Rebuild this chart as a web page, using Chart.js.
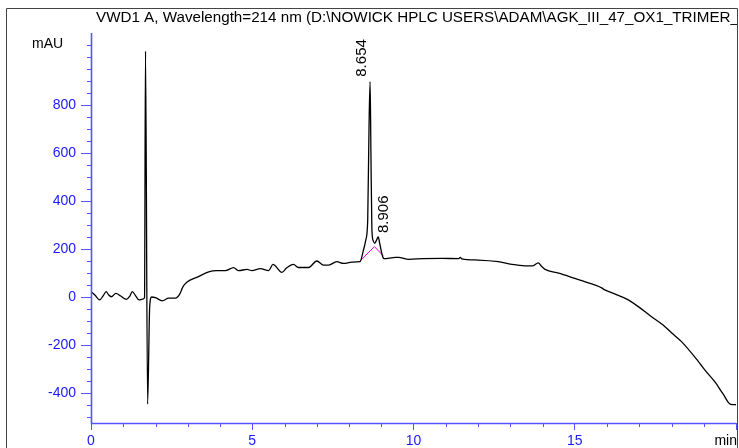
<!DOCTYPE html>
<html>
<head>
<meta charset="utf-8">
<script src="https://cdn.jsdelivr.net/npm/chart.js@4"></script>
<style>
  html, body { margin: 0; padding: 0; background: #fff; }
</style>
</head>
<body>
<canvas id="hplcChart" width="739" height="448"></canvas>
<script>
// signal trace (time in min, signal in mAU)
const times = [
    0, 0.12, 0.27, 0.38, 0.47, 0.55, 0.63, 0.77, 0.92, 1.1, 1.2, 1.28, 1.38, 1.49, 1.6, 1.66,
    1.69, 1.755, 1.82, 1.88, 2.0, 2.21, 2.41, 2.62, 2.75, 2.85, 2.98, 3.3, 3.65, 3.9, 4.17,
    4.42, 4.58, 4.84, 4.99, 5.25, 5.51, 5.64, 5.92, 6.07, 6.28, 6.43, 6.75, 7.0, 7.21, 7.37,
    7.62, 7.83, 8.09, 8.34, 8.45, 8.52, 8.58, 8.62, 8.654, 8.68, 8.71, 8.75, 8.8, 8.85, 8.906,
    8.95, 9.0, 9.05, 9.1, 9.25, 9.43, 9.54, 9.85, 10.3, 10.88, 11.4, 11.45, 11.5, 12.0, 12.63,
    13.0, 13.46, 13.7, 13.87, 13.97, 14.08, 14.5, 14.9, 15.4, 15.85, 15.9, 16.2, 16.6, 16.97,
    17.35, 17.74, 18.0, 18.31, 18.77, 19.05, 19.34, 19.6, 19.82, 20.0
];
const mau = [
    22, 8, -12, 6, 22, 8, 1, 15, 4, -10, 3, 22, 6, -12, -9, -3,
    1025, -446, -40, 0, -3, -16, -5, -5, 12, 42, 62, 83, 105, 110, 110,
    122, 110, 115, 110, 118, 110, 136, 103, 122, 136, 123, 123, 150, 133, 133,
    147, 140, 145, 147, 196, 237, 320, 700, 897, 600, 280, 235, 224, 236, 250,
    225, 192, 166, 160, 162, 165, 165, 157, 160, 161, 160, 165, 159, 154, 147,
    137, 130, 130, 142, 128, 115, 99, 82, 60, 37, 32, 15, -8, -40,
    -79, -117, -149, -186, -258, -307, -353, -404, -446, -449
];

// integration baseline (pink)
const baseTimes = [8.345, 8.787, 9.066];
const baseMau = [150, 210, 171];

// peak labels
const peakTimes = [8.654, 8.906];
const peakMau = [897, 250];
const peakLabels = ['8.654', '8.906'];

const xTicks = [0, 5, 10, 15, 20];
const yTicks = [-400, -200, 0, 200, 400, 600, 800];
const titleText = 'VWD1 A, Wavelength=214 nm (D:\\NOWICK HPLC USERS\\ADAM\\AGK_III_47_OX1_TRIMER_';

const axisBlue = '#5555ff';
const labelBlue = '#1a1aff';
const fontFam = '"Liberation Sans", Arial, sans-serif';

Chart.defaults.font.family = fontFam;

// extra bits the vendor software draws: frame, title, units, minor ticks, peak labels
const extras = {
    id: 'extras',
    afterDraw(chart) {
        const ctx = chart.ctx;
        const xs = chart.scales.x, ys = chart.scales.y;
        const area = chart.chartArea;
        ctx.save();

        // axis lines
        ctx.strokeStyle = axisBlue;
        ctx.lineWidth = 1.6;
        ctx.beginPath();
        ctx.moveTo(area.left + 0.5, area.top);
        ctx.lineTo(area.left + 0.5, area.bottom + 0.5);
        ctx.lineTo(area.right, area.bottom + 0.5);
        ctx.stroke();

        // minor ticks
        ctx.lineWidth = 1;
        ctx.beginPath();
        for (let t = 0; t <= 20; t++) {
            if (t % 5 === 0) continue;
            const px = Math.round(xs.getPixelForValue(t)) + 0.5;
            ctx.moveTo(px, area.bottom);
            ctx.lineTo(px, area.bottom + 4);
        }
        for (let v = -500; v <= 1050; v += 50) {
            if (yTicks.includes(v)) continue;
            const py = Math.round(ys.getPixelForValue(v)) + 0.5;
            ctx.moveTo(area.left - 4, py);
            ctx.lineTo(area.left, py);
        }
        ctx.stroke();

        // frame
        ctx.strokeStyle = '#444';
        ctx.beginPath();
        ctx.moveTo(6.5, 448);
        ctx.lineTo(6.5, 8.5);
        ctx.lineTo(737.5, 8.5);
        ctx.lineTo(737.5, 448);
        ctx.stroke();

        // title, clipped at the frame
        ctx.save();
        ctx.beginPath();
        ctx.rect(7, 9, 730, 25);
        ctx.clip();
        ctx.fillStyle = '#000';
        ctx.font = '15.2px ' + fontFam;
        ctx.textAlign = 'left';
        ctx.textBaseline = 'alphabetic';
        ctx.fillText(titleText, 96, 22);
        ctx.restore();

        // units
        ctx.fillStyle = '#000';
        ctx.font = '14px ' + fontFam;
        ctx.textBaseline = 'middle';
        ctx.textAlign = 'left';
        ctx.fillText('mAU', 32, 44);
        ctx.textAlign = 'right';
        ctx.fillText('min', 737, 441);

        // peak retention time labels, rotated
        const offs = [[-4, -5], [10, -4]];
        ctx.font = '15px ' + fontFam;
        ctx.textAlign = 'left';
        ctx.textBaseline = 'alphabetic';
        peakTimes.forEach((t, i) => {
            const px = xs.getPixelForValue(t) + offs[i][0];
            const py = ys.getPixelForValue(peakMau[i]) + offs[i][1];
            ctx.save();
            ctx.translate(px, py);
            ctx.rotate(-Math.PI / 2);
            ctx.fillText(peakLabels[i], 0, 0);
            ctx.restore();
        });
        ctx.restore();
    }
};

const ctx = document.getElementById('hplcChart').getContext('2d');
const chart = new Chart(ctx, {
    type: 'line',
    data: {
        datasets: [{
            data: times.map((t, i) => ({ x: t, y: mau[i] })),
            borderColor: '#000',
            borderWidth: 1.3,
            pointRadius: 0,
            cubicInterpolationMode: 'monotone',
            fill: false
        }, {
            data: baseTimes.map((t, i) => ({ x: t, y: baseMau[i] })),
            borderColor: '#e600e6',
            borderWidth: 1,
            pointRadius: 0,
            fill: false
        }]
    },
    options: {
        responsive: false,
        animation: false,
        layout: { padding: { left: 0, top: 33, right: 1, bottom: 0 } },
        plugins: { legend: { display: false }, tooltip: { enabled: false } },
        scales: {
            x: {
                type: 'linear',
                min: 0,
                max: 20,
                afterFit: s => { s.height = 25; },
                afterBuildTicks: s => { s.ticks = xTicks.map(v => ({ value: v })); },
                ticks: {
                    color: labelBlue,
                    font: { size: 14 },
                    padding: 3,
                    maxRotation: 0,
                    autoSkip: false,
                    callback: v => (v === 20 ? '' : String(v))
                },
                grid: { drawOnChartArea: false, tickLength: 7, tickColor: axisBlue },
                border: { color: axisBlue, width: 1 }
            },
            y: {
                min: -525,
                max: 1100,
                afterFit: s => { s.width = 91; },
                afterBuildTicks: s => { s.ticks = yTicks.map(v => ({ value: v })); },
                ticks: {
                    color: labelBlue,
                    font: { size: 14 },
                    padding: 5,
                    autoSkip: false
                },
                grid: { drawOnChartArea: false, tickLength: 10, tickColor: axisBlue },
                border: { color: axisBlue, width: 1 }
            }
        }
    },
    plugins: [extras]
});
</script>
</body>
</html>
